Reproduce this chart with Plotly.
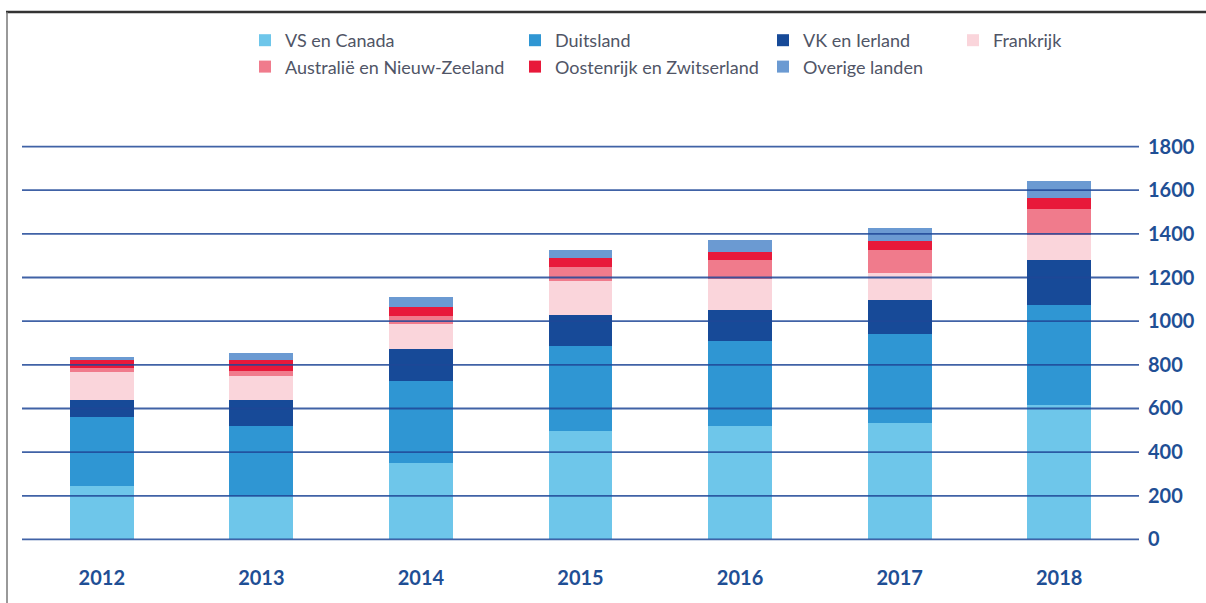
import plotly.graph_objects as go

years = ["2012", "2013", "2014", "2015", "2016", "2017", "2018"]
vs_canada = [247, 197, 350, 496, 522, 534, 617]
duitsland = [313, 325, 374, 388, 389, 408, 458]
vk_ierland = [81, 119, 149, 145, 138, 153, 203]
frankrijk = [125, 110, 116, 157, 145, 128, 118]
australie = [18, 23, 37, 61, 87, 105, 119]
oostenrijk = [36, 46, 41, 43, 35, 41, 50]
overige = [18, 35, 43, 38, 58, 57, 75]
y_ticks = [0, 200, 400, 600, 800, 1000, 1200, 1400, 1600, 1800]

series = [
    ("VS en Canada", vs_canada, "#6ec6ea", "legend"),
    ("Duitsland", duitsland, "#2f96d3", "legend2"),
    ("VK en Ierland", vk_ierland, "#174a98", "legend3"),
    ("Frankrijk", frankrijk, "#fad5db", "legend4"),
    ("Australië en Nieuw-Zeeland", australie, "#f07b8c", "legend"),
    ("Oostenrijk en Zwitserland", oostenrijk, "#e8193a", "legend2"),
    ("Overige landen", overige, "#6b9ad2", "legend3"),
]

W, H = 1206, 603
ML, MR, MT, MB = 22, 67, 140, 57

fig = go.Figure()
for i, (name, vals, color, leg) in enumerate(series):
    fig.add_trace(go.Bar(
        x=years, y=vals, name=name, legend=leg, legendgroup=f"g{i}",
        marker=dict(color=color, line=dict(width=0)),
    ))

# gridlines sit on top of the bars in the original
for v in y_ticks:
    fig.add_shape(type="line", xref="paper", yref="y", x0=0, x1=1, y0=v, y1=v,
                  layer="above", line=dict(color="rgba(30,70,150,0.85)", width=1.8))

# page frame (top rule and left edge)
pw, ph = W - ML - MR, H - MT - MB
def px_x(p):
    return (p - ML) / pw
def px_y(p):
    return (H - MB - p) / ph
fig.add_shape(type="line", xref="paper", yref="paper", x0=px_x(6), x1=px_x(W), y0=px_y(12), y1=px_y(12),
              line=dict(color="#333333", width=2.5))
fig.add_shape(type="line", xref="paper", yref="paper", x0=px_x(7), x1=px_x(7), y0=px_y(12), y1=px_y(H),
              line=dict(color="#777777", width=1.5))

tick_font = dict(family="Lato, sans-serif", size=20, color="#1f4f95", weight="bold")
legend_font = dict(family="Lato, sans-serif", size=18, color="#505566")

def legend_at(text_x):
    return dict(
        x=(text_x - 40) / W, y=1 - 22 / H, xref="container", yref="container",
        xanchor="left", yanchor="top", orientation="v", traceorder="normal",
        tracegroupgap=20, font=legend_font, bgcolor="rgba(0,0,0,0)",
    )

fig.update_layout(
    width=W, height=H,
    margin=dict(l=ML, r=MR, t=MT, b=MB, autoexpand=False),
    barmode="stack", bargap=0.6,
    plot_bgcolor="white", paper_bgcolor="white",
    showlegend=True,
    legend=legend_at(285),
    legend2=legend_at(555),
    legend3=legend_at(803),
    legend4=legend_at(993),
    xaxis=dict(type="category", range=[-0.5, 6.5], showgrid=False, zeroline=False, showline=False,
               tickfont=tick_font, ticks="", ticklabelstandoff=18, automargin=False),
    yaxis=dict(range=[-30, 1830], side="right", tickvals=y_ticks, showgrid=False,
               zeroline=False, showline=False, tickfont=tick_font, ticks="",
               ticklabelstandoff=8, automargin=False),
)

# drop the browser's default body margin so the figure fills the window
fig.write_html("out.html", config={"displayModeBar": False},
               post_script="document.body.style.margin='0';")
